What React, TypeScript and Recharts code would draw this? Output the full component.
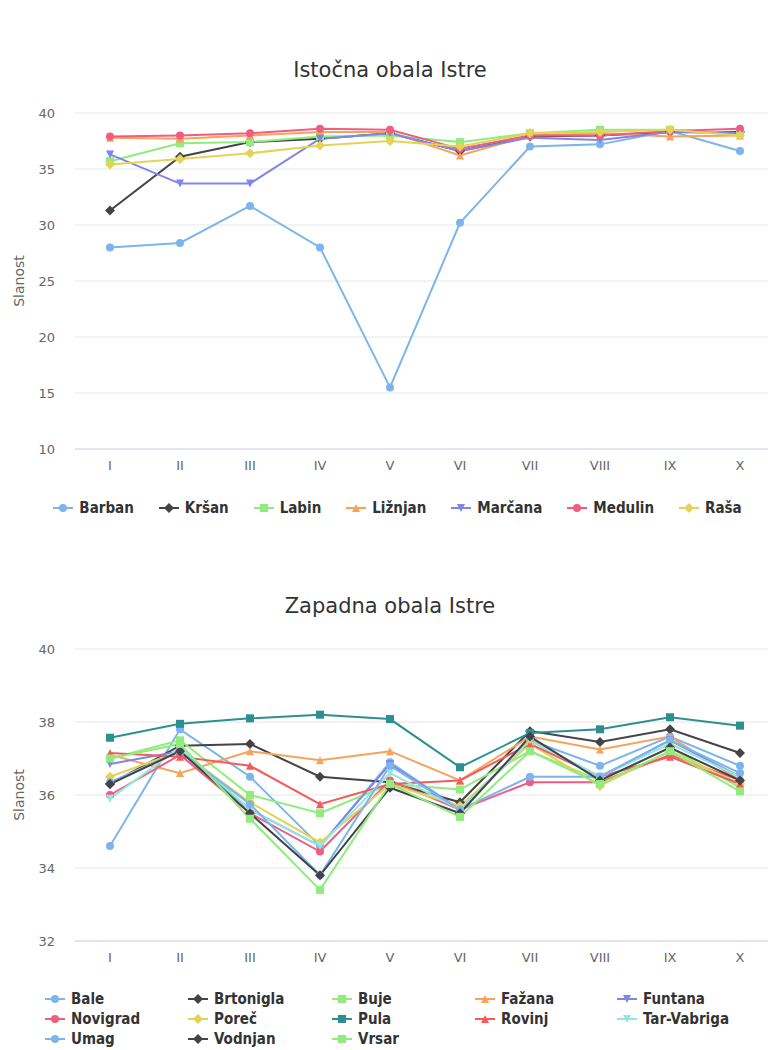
import React from "react";
import { LineChart, Line, XAxis, YAxis, CartesianGrid } from "recharts";

const months = ["I", "II", "III", "IV", "V", "VI", "VII", "VIII", "IX", "X"];

// Istočna obala
const barban = [28.0, 28.4, 31.7, 28.0, 15.5, 30.2, 37.0, 37.2, 38.4, 36.6];
const krsan = [31.3, 36.1, 37.4, 37.7, 38.2, 36.6, 37.9, 38.0, 38.3, 38.3];
const labin = [35.7, 37.3, 37.4, 37.9, 38.0, 37.4, 38.2, 38.5, 38.5, 38.2];
const liznjan = [37.8, 37.7, 38.0, 38.3, 38.3, 36.2, 38.0, 38.2, 37.9, 38.0];
const marcana = [36.3, 33.7, 33.7, 37.7, 38.2, 36.6, 37.8, 37.6, 38.3, 38.2];
const medulin = [37.9, 38.0, 38.2, 38.6, 38.5, 36.8, 38.0, 38.0, 38.4, 38.6];
const rasa = [35.4, 35.9, 36.4, 37.1, 37.5, 37.0, 38.2, 38.3, 38.5, 38.0];

// Zapadna obala
const bale = [34.6, 37.8, 36.5, 34.6, 36.9, 35.6, 37.5, 36.8, 37.6, 36.8];
const brtonigla = [36.3, 37.35, 37.4, 36.5, 36.35, 35.8, 37.75, 37.45, 37.8, 37.15];
const buje = [37.0, 37.5, 36.0, 35.5, 36.3, 36.15, 37.2, 36.4, 37.3, 36.2];
const fazana = [37.1, 36.6, 37.2, 36.95, 37.2, 36.4, 37.6, 37.25, 37.6, 36.4];
const funtana = [36.85, 37.2, 35.6, 34.6, 36.85, 35.6, 37.5, 36.5, 37.5, 36.5];
const novigrad = [36.0, 37.1, 35.5, 34.45, 36.4, 35.6, 36.35, 36.35, 37.1, 36.4];
const porec = [36.5, 37.2, 35.8, 34.7, 36.3, 35.7, 37.4, 36.25, 37.2, 36.3];
const pula = [37.57, 37.95, 38.1, 38.2, 38.08, 36.76, 37.7, 37.8, 38.13, 37.9];
const rovinj = [37.15, 37.05, 36.8, 35.75, 36.3, 36.4, 37.4, 36.5, 37.05, 36.3];
const tarVabriga = [35.9, 37.3, 35.6, 34.6, 36.6, 35.6, 37.5, 36.5, 37.4, 36.5];
const umag = [36.35, 37.2, 35.75, 33.8, 36.8, 35.6, 36.5, 36.5, 37.5, 36.6];
const vodnjan = [36.3, 37.2, 35.5, 33.8, 36.2, 35.5, 37.6, 36.4, 37.3, 36.4];
const vrsar = [37.0, 37.4, 35.35, 33.4, 36.3, 35.4, 37.2, 36.3, 37.2, 36.1];

type Series = { name: string; values: number[]; color: string; shape: string };

const eastSeries: Series[] = [
  { name: "Barban", values: barban, color: "#7cb5ec", shape: "circle" },
  { name: "Kršan", values: krsan, color: "#434348", shape: "diamond" },
  { name: "Labin", values: labin, color: "#90ed7d", shape: "square" },
  { name: "Ližnjan", values: liznjan, color: "#f7a35c", shape: "triangle" },
  { name: "Marčana", values: marcana, color: "#8085e9", shape: "triangle-down" },
  { name: "Medulin", values: medulin, color: "#f15c80", shape: "circle" },
  { name: "Raša", values: rasa, color: "#e4d354", shape: "diamond" },
];

const westSeries: Series[] = [
  { name: "Bale", values: bale, color: "#7cb5ec", shape: "circle" },
  { name: "Brtonigla", values: brtonigla, color: "#434348", shape: "diamond" },
  { name: "Buje", values: buje, color: "#90ed7d", shape: "square" },
  { name: "Fažana", values: fazana, color: "#f7a35c", shape: "triangle" },
  { name: "Funtana", values: funtana, color: "#8085e9", shape: "triangle-down" },
  { name: "Novigrad", values: novigrad, color: "#f15c80", shape: "circle" },
  { name: "Poreč", values: porec, color: "#e4d354", shape: "diamond" },
  { name: "Pula", values: pula, color: "#2b908f", shape: "square" },
  { name: "Rovinj", values: rovinj, color: "#f45b5b", shape: "triangle" },
  { name: "Tar-Vabriga", values: tarVabriga, color: "#91e8e1", shape: "triangle-down" },
  { name: "Umag", values: umag, color: "#7cb5ec", shape: "circle" },
  { name: "Vodnjan", values: vodnjan, color: "#434348", shape: "diamond" },
  { name: "Vrsar", values: vrsar, color: "#90ed7d", shape: "square" },
];

const eastTicks = [10, 15, 20, 25, 30, 35, 40];
const westTicks = [32, 34, 36, 38, 40];

const buildRows = (series: Series[]) =>
  months.map((m, i) => {
    const row: Record<string, any> = { month: m };
    series.forEach((s) => (row[s.name] = s.values[i]));
    return row;
  });

const FONT = "'DejaVu Sans', 'Open Sans', sans-serif";
const LEGEND_FONT = "'Liberation Sans Narrow', 'DejaVu Sans Condensed', 'Roboto Condensed', 'Liberation Sans', sans-serif";

function Marker({ cx, cy, color, shape, r = 4 }: any) {
  if (cx == null || cy == null) return null;
  switch (shape) {
    case "square":
      return <rect x={cx - r} y={cy - r} width={r * 2} height={r * 2} fill={color} />;
    case "diamond":
      return <path d={`M${cx} ${cy - r - 1}L${cx + r + 1} ${cy}L${cx} ${cy + r + 1}L${cx - r - 1} ${cy}Z`} fill={color} />;
    case "triangle":
      return <path d={`M${cx} ${cy - r}L${cx + r} ${cy + r}L${cx - r} ${cy + r}Z`} fill={color} />;
    case "triangle-down":
      return <path d={`M${cx - r} ${cy - r}L${cx + r} ${cy - r}L${cx} ${cy + r}Z`} fill={color} />;
    default:
      return <circle cx={cx} cy={cy} r={r} fill={color} />;
  }
}

function LegendItem({ s }: { s: Series }) {
  return (
    <div style={{ display: "flex", alignItems: "center", whiteSpace: "nowrap", height: 20 }}>
      <svg width={20} height={12} style={{ marginRight: 6 }}>
        <line x1={0} y1={6} x2={20} y2={6} stroke={s.color} strokeWidth={2} />
        <Marker cx={10} cy={6} color={s.color} shape={s.shape} />
      </svg>
      <span>{s.name}</span>
    </div>
  );
}

function Panel({ top, title, series, domain, ticks, plotTop, plotBottom }: any) {
  const height = plotBottom - top + 31;
  const rows = buildRows(series);
  return (
    <>
      <div
        style={{
          position: "absolute",
          top: plotTop - 56,
          left: 0,
          width: 780,
          textAlign: "center",
          fontFamily: FONT,
          fontSize: 21,
          lineHeight: "26px",
          color: "#333",
        }}
      >
        {title}
      </div>
      <div
        style={{
          position: "absolute",
          left: 19,
          top: (plotTop + plotBottom) / 2,
          transform: "translate(-50%, -50%) rotate(-90deg)",
          fontFamily: FONT,
          fontSize: 14,
          color: "#666",
        }}
      >
        Slanost
      </div>
      <div style={{ position: "absolute", top, left: 0 }}>
        <LineChart
          width={775}
          height={height}
          data={rows}
          margin={{ top: plotTop - top, right: 0, bottom: 1, left: 0 }}
        >
          <CartesianGrid vertical={false} stroke="#e6e6e6" />
          <XAxis
            dataKey="month"
            height={30}
            padding={{ left: 35, right: 35 }}
            tickLine={false}
            axisLine={{ stroke: "#ccd6eb" }}
            tick={{ fill: "#666", fontSize: 13, fontFamily: FONT }}
            tickMargin={6}
          />
          <YAxis
            width={75}
            domain={domain}
            ticks={ticks}
            tickLine={false}
            axisLine={false}
            tick={{ fill: "#666", fontSize: 13, fontFamily: FONT }}
            tickMargin={14}
          />
          {series.map((s: Series) => (
            <Line
              key={s.name}
              dataKey={s.name}
              stroke={s.color}
              strokeWidth={2}
              isAnimationActive={false}
              dot={(p: any) => <Marker key={`${s.name}-${p.index}`} cx={p.cx} cy={p.cy} color={s.color} shape={s.shape} />}
              activeDot={false}
            />
          ))}
        </LineChart>
      </div>
    </>
  );
}

export default function App() {
  const legendStyle: React.CSSProperties = {
    fontFamily: LEGEND_FONT,
    fontWeight: "bold",
    fontSize: 15,
    color: "#333",
  };
  const westCols = [45, 188, 332, 475, 617];
  return (
    <div style={{ position: "absolute", top: 0, left: 0, width: 768, height: 1050, overflow: "hidden", background: "#fff" }}>
      <Panel top={0} title="Istočna obala Istre" series={eastSeries} domain={[10, 40]} ticks={eastTicks} plotTop={113} plotBottom={449} />
      <div
        style={{
          ...legendStyle,
          position: "absolute",
          top: 498,
          left: 0,
          width: 795,
          display: "flex",
          justifyContent: "center",
          gap: 25,
        }}
      >
        {eastSeries.map((s) => (
          <LegendItem key={s.name} s={s} />
        ))}
      </div>

      <Panel top={540} title="Zapadna obala Istre" series={westSeries} domain={[32, 40]} ticks={westTicks} plotTop={649} plotBottom={941} />
      {westSeries.map((s, i) => (
        <div
          key={s.name}
          style={{ ...legendStyle, position: "absolute", top: 989 + Math.floor(i / 5) * 20, left: westCols[i % 5] }}
        >
          <LegendItem s={s} />
        </div>
      ))}
    </div>
  );
}
